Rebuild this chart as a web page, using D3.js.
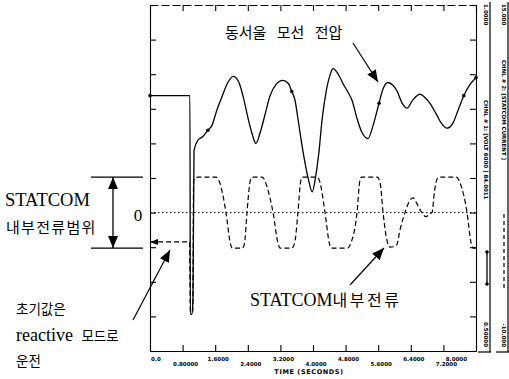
<!DOCTYPE html>
<html>
<head>
<meta charset="utf-8">
<script src="https://cdn.jsdelivr.net/npm/d3@7"></script>
<style>
  body { margin: 0; background: #fff; }
  svg { display: block; }
</style>
</head>
<body>
<div id="chart"></div>
<script>
// time axis (seconds)
const timeTicks = [0, 0.8, 1.6, 2.4, 3.2, 4.0, 4.8, 5.6, 6.4, 7.2, 8.0];
const timeTickLabels = ["0.0", "0.80000", "1.6000", "2.4000", "3.2000", "4.0000",
  "4.8000", "5.6000", "6.4000", "7.2000", "8.0000"];

// channel 1: bus voltage (pu)
const voltTime = [0, 0.98, 0.99, 1.03, 1.055, 1.08, 1.18, 1.30, 1.42, 1.52, 1.64, 1.77,
  1.91, 2.04, 2.16, 2.28, 2.40, 2.50, 2.60, 2.70, 2.82, 2.94, 3.09, 3.26, 3.39, 3.48,
  3.56, 3.63, 3.75, 3.88, 3.98, 4.07, 4.15, 4.22, 4.32, 4.42, 4.49, 4.61, 4.74, 4.86,
  4.96, 5.08, 5.20, 5.35, 5.47, 5.62, 5.72, 5.84, 5.96, 6.06, 6.18, 6.31, 6.45, 6.63,
  6.75, 6.87, 7.02, 7.14, 7.29, 7.44, 7.56, 7.70, 7.85, 8.0];
const voltValue = [0.869, 0.869, 0.553, 0.553, 0.575, 0.790, 0.805, 0.810, 0.819, 0.826,
  0.848, 0.868, 0.888, 0.897, 0.891, 0.869, 0.838, 0.815, 0.800, 0.815, 0.841, 0.868,
  0.885, 0.891, 0.887, 0.875, 0.862, 0.836, 0.790, 0.750, 0.730, 0.754, 0.790, 0.833,
  0.874, 0.899, 0.908, 0.901, 0.886, 0.874, 0.862, 0.836, 0.816, 0.807, 0.825, 0.858,
  0.879, 0.888, 0.884, 0.876, 0.859, 0.851, 0.863, 0.871, 0.866, 0.858, 0.843, 0.830,
  0.822, 0.830, 0.848, 0.869, 0.885, 0.895];
const voltMarkerTimes = [0, 1.42, 3.48, 5.62, 7.70, 8.0];

// channel 2: STATCOM internal current
const currTime = [0, 0.97, 0.99, 1.04, 1.05, 1.07, 1.12, 1.18, 1.62, 1.70, 1.865, 1.97,
  2.02, 2.27, 2.32, 2.38, 2.46, 2.51, 2.76, 2.83, 3.02, 3.14, 3.19, 3.48, 3.55, 3.63,
  3.70, 3.74, 4.10, 4.17, 4.295, 4.40, 4.44, 4.85, 4.93, 5.08, 5.15, 5.19, 5.58, 5.65,
  5.72, 5.80, 5.89, 6.00, 6.06, 6.135, 6.258, 6.36, 6.454, 6.55, 6.65, 6.773, 6.86,
  6.92, 6.98, 7.04, 7.09, 7.52, 7.60, 7.78, 7.88, 7.93, 8.0];
const currValue = [-2.12, -2.12, -7.18, -7.18, -7.18, 2.3, 2.54, 2.56, 2.56, 2.25, 0, -2.2,
  -2.56, -2.56, -2.2, 0, 2.3, 2.56, 2.56, 2.2, 0, -2.2, -2.56, -2.56, -2.2, 0,
  2.3, 2.56, 2.56, 2.2, 0, -2.2, -2.56, -2.56, -2.2, 0, 2.3, 2.56, 2.56, 2.1,
  0, -1.8, -2.5, -2.45, -2.3, -1.24, 0, 0.8, 1.06, 0.65, 0.1, -0.30, -0.1,
  0, 1.5, 2.4, 2.56, 2.56, 2.2, 0, -2.2, -2.56, -2.56];
const currentLimit = [-2.56, 2.56];

// channel scales printed at the right edge
const chnl1Range = [0.5, 1.0];
const chnl2Range = [-10, 15];
const chnlLabels = ["1.0000", "CHNL # 1: [VOLT 6000 ] 84.0011", "0.50000",
  "15.000", "CHNL # 2: [STATCOM CURRENT ]", "-10.000"];

const width = 509, height = 379;
const plot = { left: 150, right: 476, top: 5, bottom: 351 };

const svg = d3.select("#chart").append("svg")
  .attr("width", width)
  .attr("height", height);

const defs = svg.append("defs");
defs.append("marker")
  .attr("id", "arrow")
  .attr("viewBox", "0 0 12 10")
  .attr("refX", 12).attr("refY", 5)
  .attr("markerWidth", 12).attr("markerHeight", 10)
  .attr("markerUnits", "userSpaceOnUse")
  .attr("orient", "auto-start-reverse")
  .append("path")
  .attr("d", "M0,0 L12,5 L0,10 Z")
  .attr("fill", "#000");
defs.append("marker")
  .attr("id", "tip")
  .attr("viewBox", "0 0 8 6")
  .attr("refX", 8).attr("refY", 3)
  .attr("markerWidth", 8).attr("markerHeight", 6)
  .attr("markerUnits", "userSpaceOnUse")
  .attr("orient", "auto-start-reverse")
  .append("path")
  .attr("d", "M0,0 L8,3 L0,6 Z")
  .attr("fill", "#000");

const x = d3.scaleLinear().domain([0, 8]).range([plot.left, plot.right]);
const yV = d3.scaleLinear().domain(chnl1Range).range([plot.bottom, plot.top]);
const yI = d3.scaleLinear().domain(chnl2Range).range([plot.bottom, plot.top]);
const yTicks = d3.range(11).map(i => chnl1Range[0] + i * 0.05);

// frame + ticks
const axisStyle = g => {
  g.selectAll("path, line").attr("stroke", "#000").attr("stroke-width", 1.1);
  g.selectAll("text").remove();
};

svg.append("g")
  .attr("transform", `translate(${plot.left},0)`)
  .call(d3.axisLeft(yV).tickValues(yTicks).tickSize(-6).tickSizeOuter(0))
  .call(axisStyle);

svg.append("g")
  .attr("transform", `translate(${plot.right},0)`)
  .call(d3.axisRight(yV).tickValues(yTicks).tickSize(-6).tickSizeOuter(0))
  .call(axisStyle);

svg.append("g")
  .attr("transform", `translate(0,${plot.top})`)
  .call(d3.axisTop(x).tickValues(timeTicks).tickSize(-6).tickSizeOuter(0))
  .call(axisStyle)
  .select(".domain").attr("stroke-dasharray", "8,3");

svg.append("g")
  .attr("transform", `translate(0,${plot.bottom})`)
  .call(d3.axisBottom(x).tickValues(timeTicks).tickSize(-6).tickSizeOuter(0))
  .call(axisStyle);

// tick labels, staggered like the plotter output
svg.append("g").selectAll("text")
  .data(timeTicks)
  .join("text")
  .attr("x", (d, i) => i === 0 ? x(d) + 1 : (i === timeTicks.length - 1 ? x(d) - 9 : x(d) + 3))
  .attr("y", (d, i) => plot.bottom + (i % 2 ? 15 : 10))
  .attr("text-anchor", (d, i) => i === 0 ? "start" : (i === timeTicks.length - 1 ? "end" : "middle"))
  .attr("font-family", "DejaVu Sans")
  .attr("font-weight", "bold")
  .attr("font-size", 5.5)
  .text((d, i) => timeTickLabels[i]);

svg.append("text")
  .attr("x", 309).attr("y", 374)
  .attr("text-anchor", "middle")
  .attr("font-family", "DejaVu Sans")
  .attr("font-weight", "bold")
  .attr("font-size", 6.5)
  .attr("letter-spacing", 0.6)
  .text("TIME  (SECONDS)");

// zero line of the current channel
svg.append("line")
  .attr("x1", plot.left).attr("x2", plot.right)
  .attr("y1", yI(0)).attr("y2", yI(0))
  .attr("stroke", "#000").attr("stroke-width", 1)
  .attr("stroke-dasharray", "1.5,2.5");

// curves
const voltData = voltTime.map((t, i) => ({ t, v: voltValue[i] }));
const currData = currTime.map((t, i) => ({ t, v: currValue[i] }));

svg.append("path")
  .datum(currData)
  .attr("fill", "none")
  .attr("stroke", "#000")
  .attr("stroke-width", 1.2)
  .attr("stroke-dasharray", "5,3")
  .attr("marker-start", "url(#tip)")
  .attr("d", d3.line().x(d => x(d.t)).y(d => yI(d.v)).curve(d3.curveMonotoneX));

svg.append("path")
  .datum(voltData)
  .attr("fill", "none")
  .attr("stroke", "#000")
  .attr("stroke-width", 1.3)
  .attr("d", d3.line().x(d => x(d.t)).y(d => yV(d.v)).curve(d3.curveMonotoneX));

svg.append("g").selectAll("circle")
  .data(voltData.filter(d => voltMarkerTimes.includes(d.t)))
  .join("circle")
  .attr("cx", d => x(d.t)).attr("cy", d => yV(d.v))
  .attr("r", 1.8)
  .attr("fill", "#000");

// annotations
const serif = "Liberation Serif, Noto Sans CJK KR";
const kr = "Noto Sans CJK KR";

svg.append("text")
  .attr("x", 225).attr("y", 38)
  .attr("font-family", kr).attr("font-size", 15)
  .attr("word-spacing", 7)
  .text("동서울 모선 전압");

svg.append("line")
  .attr("x1", 353).attr("y1", 43).attr("x2", 378).attr("y2", 82)
  .attr("stroke", "#000").attr("stroke-width", 1.2)
  .attr("marker-end", "url(#arrow)");

const bottomLabel = svg.append("text")
  .attr("x", 250).attr("y", 306);
bottomLabel.append("tspan")
  .attr("font-family", serif).attr("font-size", 18)
  .text("STATCOM");
bottomLabel.append("tspan")
  .attr("font-family", kr).attr("font-size", 16)
  .attr("letter-spacing", 2.5)
  .text("내부전류");

svg.append("line")
  .attr("x1", 350).attr("y1", 285).attr("x2", 384).attr("y2", 248)
  .attr("stroke", "#000").attr("stroke-width", 1.2)
  .attr("marker-end", "url(#arrow)");

// STATCOM current range marker
currentLimit.forEach(v => {
  svg.append("line")
    .attr("x1", 91).attr("x2", 143)
    .attr("y1", yI(v)).attr("y2", yI(v))
    .attr("stroke", "#000").attr("stroke-width", 1.2);
});
svg.append("line")
  .attr("x1", 113).attr("x2", 113)
  .attr("y1", yI(currentLimit[1])).attr("y2", yI(currentLimit[0]))
  .attr("stroke", "#000").attr("stroke-width", 1.3)
  .attr("marker-start", "url(#arrow)")
  .attr("marker-end", "url(#arrow)");

svg.append("text")
  .attr("x", 138).attr("y", 221)
  .attr("text-anchor", "middle")
  .attr("font-family", serif).attr("font-size", 17)
  .text("0");

svg.append("text")
  .attr("x", 5).attr("y", 206)
  .attr("font-family", serif).attr("font-size", 18.5)
  .text("STATCOM");
svg.append("text")
  .attr("x", 6).attr("y", 233)
  .attr("font-family", kr).attr("font-size", 15)
  .attr("letter-spacing", 1.3)
  .text("내부전류범위");

svg.append("text")
  .attr("x", 16).attr("y", 314)
  .attr("font-family", kr).attr("font-size", 13.5)
  .text("초기값은");
const reactive = svg.append("text").attr("x", 16).attr("y", 341);
reactive.append("tspan")
  .attr("font-family", serif).attr("font-size", 18)
  .text("reactive ");
reactive.append("tspan")
  .attr("font-family", kr).attr("font-size", 13.5)
  .attr("dx", 4)
  .text("모드로");
svg.append("text")
  .attr("x", 16).attr("y", 366)
  .attr("font-family", kr).attr("font-size", 13.5)
  .text("운전");

svg.append("line")
  .attr("x1", 133).attr("y1", 320).attr("x2", 170).attr("y2", 250)
  .attr("stroke", "#000").attr("stroke-width", 1.2)
  .attr("marker-end", "url(#arrow)");

// channel legend columns on the right
const colX = [490, 508];
colX.forEach(cx => {
  svg.append("line")
    .attr("x1", cx).attr("x2", cx).attr("y1", 2).attr("y2", plot.bottom + 1)
    .attr("stroke", "#000").attr("stroke-width", 1.2);
  svg.append("line")
    .attr("x1", cx - 12).attr("x2", cx + 1).attr("y1", plot.bottom + 1).attr("y2", plot.bottom + 1)
    .attr("stroke", "#000").attr("stroke-width", 1.2);
});

const colText = (cx, y, anchor, txt) => svg.append("text")
  .attr("transform", `translate(${cx},${y}) rotate(90)`)
  .attr("text-anchor", anchor)
  .attr("font-family", "DejaVu Sans")
  .attr("font-weight", "bold")
  .attr("font-size", 5.5)
  .text(txt);

colText(484, 4, "start", chnlLabels[0]);
colText(484, 100, "start", chnlLabels[1]);
colText(484, 347, "end", chnlLabels[2]);
colText(502, 4, "start", chnlLabels[3]);
colText(502, 60, "start", chnlLabels[4]);
colText(502, 347, "end", chnlLabels[5]);

// legend samples
svg.append("line")
  .attr("x1", 487).attr("x2", 487).attr("y1", 252).attr("y2", 284)
  .attr("stroke", "#000").attr("stroke-width", 1.3);
[252, 284].forEach(cy => svg.append("circle")
  .attr("cx", 487).attr("cy", cy).attr("r", 1.8).attr("fill", "#000"));
svg.append("line")
  .attr("x1", 504).attr("x2", 504).attr("y1", 214).attr("y2", 288)
  .attr("stroke", "#000").attr("stroke-width", 1.2)
  .attr("stroke-dasharray", "4,3");
</script>
</body>
</html>
